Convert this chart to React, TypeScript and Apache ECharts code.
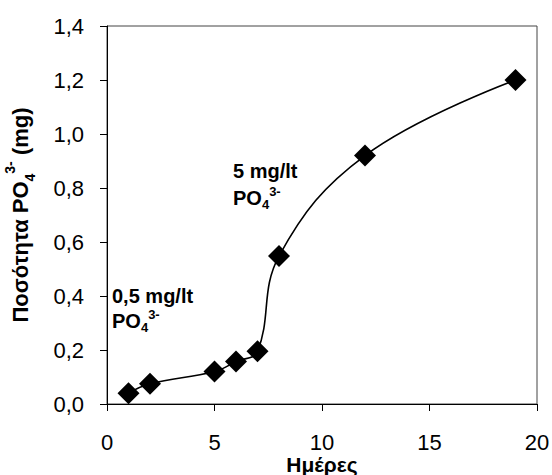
import React, { useEffect, useRef } from "react";
import * as echarts from "echarts";

const days = [1, 2, 5, 6, 7, 8, 12, 19];
const amountMg = [0.04, 0.075, 0.12, 0.157, 0.195, 0.548, 0.92, 1.2];
const xTicks = [0, 5, 10, 15, 20];
const yTicks = [0, 0.2, 0.4, 0.6, 0.8, 1.0, 1.2, 1.4];

const FONT = "Liberation Sans, Arial, sans-serif";

export default function App() {
  const ref = useRef<HTMLDivElement>(null);
  useEffect(() => {
    if (!ref.current) return;
    const chart = echarts.init(ref.current, undefined, { renderer: "svg" });
    const richMain = {
      b: { fontFamily: FONT, fontWeight: "bold", fontSize: 22, lineHeight: 34, color: "#000" },
      sub: { fontFamily: FONT, fontWeight: "bold", fontSize: 14, lineHeight: 14, verticalAlign: "bottom", color: "#000" },
      sup: { fontFamily: FONT, fontWeight: "bold", fontSize: 14, lineHeight: 14, verticalAlign: "top", color: "#000" },
    };
    const richAnn = {
      b: { fontFamily: FONT, fontWeight: "bold", fontSize: 20, lineHeight: 26, color: "#000" },
      sub: { fontFamily: FONT, fontWeight: "bold", fontSize: 13, lineHeight: 13, verticalAlign: "bottom", color: "#000" },
      sup: { fontFamily: FONT, fontWeight: "bold", fontSize: 13, lineHeight: 13, verticalAlign: "top", color: "#000" },
    };
    chart.setOption({
      animation: false,
      grid: {
        left: 107,
        right: 15,
        top: 26,
        bottom: 71,
        outerBoundsMode: "none",
        containLabel: false,
        show: true,
        borderColor: "#444",
        borderWidth: 1,
        backgroundColor: "transparent",
      },
      xAxis: {
        type: "value",
        min: xTicks[0],
        max: xTicks[xTicks.length - 1],
        interval: 5,
        name: "Ημέρες",
        nameLocation: "middle",
        nameGap: 49,
        nameMoveOverlap: false,
        nameTextStyle: { fontFamily: FONT, fontWeight: "bold", fontSize: 21, lineHeight: 22, color: "#000" },
        axisLine: { show: true, onZero: false, lineStyle: { color: "#000", width: 1 } },
        axisTick: { show: true, inside: false, length: 7, lineStyle: { color: "#000" } },
        axisLabel: {
          fontFamily: FONT,
          fontSize: 22,
          lineHeight: 22,
          color: "#000",
          margin: 27,
          formatter: (v: number) => String(v),
        },
        splitLine: { show: false },
      },
      yAxis: {
        type: "value",
        min: yTicks[0],
        max: yTicks[yTicks.length - 1],
        interval: 0.2,
        name: "{b|Ποσότητα PO}{sub|4}{sup|3-}{b| (mg)}",
        nameLocation: "middle",
        nameGap: 70,
        nameRotate: 90,
        nameMoveOverlap: false,
        nameTextStyle: { rich: richMain },
        axisLine: { show: true, onZero: false, lineStyle: { color: "#000", width: 1 } },
        axisTick: { show: true, inside: false, length: 7, lineStyle: { color: "#000" } },
        axisLabel: {
          fontFamily: FONT,
          fontSize: 22,
          color: "#000",
          margin: 23,
          formatter: (v: number) => v.toFixed(1).replace(".", ","),
        },
        splitLine: { show: false },
      },
      graphic: [
        {
          type: "text",
          left: 112,
          top: 286,
          style: { text: "0,5 mg/lt", font: `bold 20px ${FONT}`, fill: "#000" },
        },
        {
          type: "text",
          left: 112,
          top: 308,
          style: { text: "{b|PO}{sub|4}{sup|3-}", rich: richAnn },
        },
        {
          type: "text",
          left: 233,
          top: 161,
          style: { text: "5 mg/lt", font: `bold 20px ${FONT}`, fill: "#000" },
        },
        {
          type: "text",
          left: 233,
          top: 185,
          style: { text: "{b|PO}{sub|4}{sup|3-}", rich: richAnn },
        },
      ],
      series: [
        {
          type: "line",
          data: days.map((d, i) => [d, amountMg[i]]),
          smooth: 0.4,
          symbol: "diamond",
          symbolSize: 22,
          itemStyle: { color: "#000" },
          lineStyle: { color: "#000", width: 1.6 },
          z: 3,
        },
      ],
    });
    return () => chart.dispose();
  }, []);
  return <div ref={ref} style={{ width: 552, height: 475, position: "absolute", left: 0, top: 0 }} />;
}
